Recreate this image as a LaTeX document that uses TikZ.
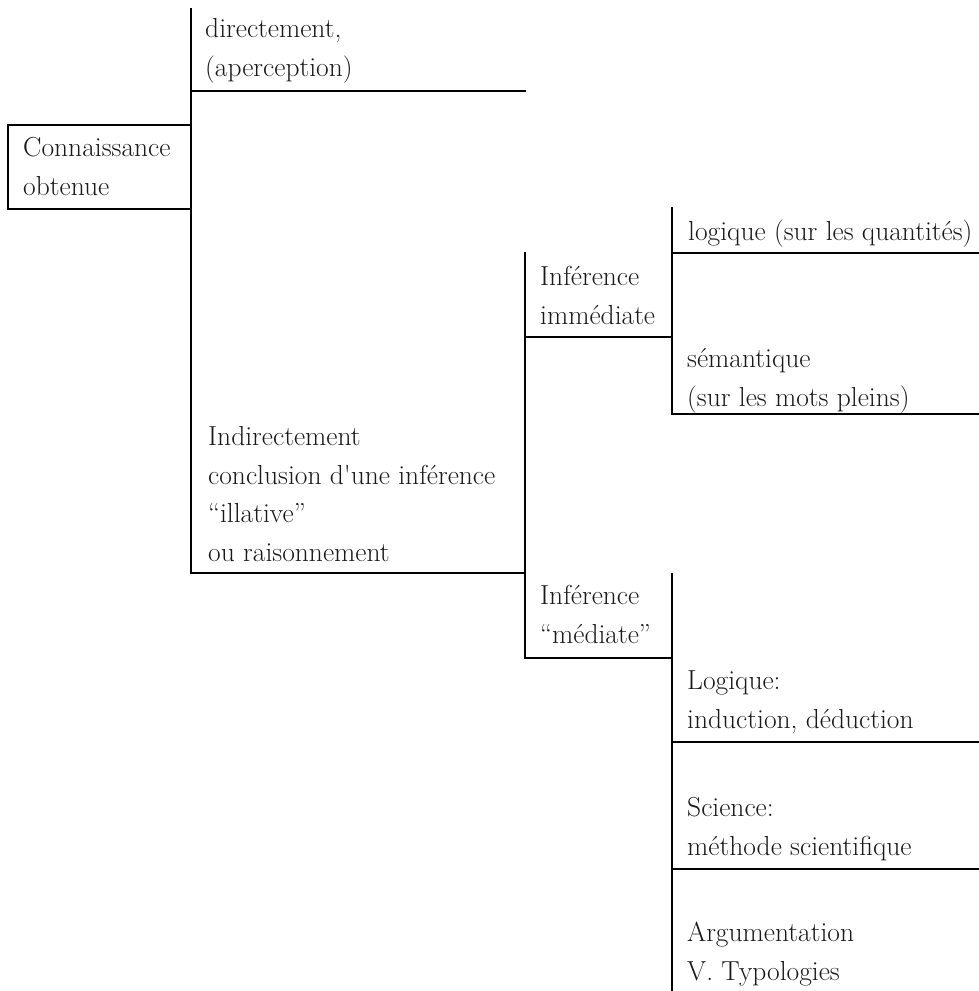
\documentclass[tikz,border=0pt]{standalone}
\usepackage{fontspec}
\begin{document}
\begin{tikzpicture}[x=1pt,y=-1pt,
  rule/.style={line width=2.5pt,black,line cap=rect},
  lbl/.style={anchor=base west,inner sep=0pt,align=left,text=black!90,
    font=\fontsize{27.5}{38.4}\selectfont}]
\useasboundingbox (0,0) rectangle (979,991);

% spines and junction points
\coordinate (a0) at (191,9);
\coordinate (a1) at (191,91);
\coordinate (a2) at (191,573);
\coordinate (a1e) at (525,91);
\coordinate (a2e) at (525,573);
\coordinate (bx1) at (8,125);
\coordinate (bx2) at (8,209);
\coordinate (bx1r) at (191,125);
\coordinate (bx2r) at (191,209);

\coordinate (b0) at (525,253);
\coordinate (b1) at (525,337);
\coordinate (b2) at (525,658);
\coordinate (b1e) at (672,337);
\coordinate (b2e) at (672,658);

\coordinate (c0) at (672,208);
\coordinate (c1) at (672,253);
\coordinate (c2) at (672,414);
\coordinate (c1e) at (979,253);
\coordinate (c2e) at (979,414);

\coordinate (d0) at (672,574);
\coordinate (d1) at (672,742);
\coordinate (d2) at (672,869);
\coordinate (d3) at (672,991);
\coordinate (d1e) at (979,742);
\coordinate (d2e) at (979,869);

% texts (each placed by the baseline of its last line)
\node[lbl] (root) at (23,195) {Connaissance\\obtenue};
\node[lbl] (dir) at (205,76) {directement,\\(aperception)};
\node[lbl] (ind) at (208,561) {Indirectement\\conclusion d\textquotesingle une inférence\\“illative”\\ou raisonnement};
\node[lbl] (imm) at (540,324) {Inférence\\immédiate};
\node[lbl] (med) at (540,643) {Inférence\\“médiate”};
\node[lbl] (log) at (688,240) {logique (sur les quantités)};
\node[lbl] (sem) at (687,406) {sémantique\\(sur les mots pleins)};
\node[lbl] (lgq) at (687,728) {Logique:\\induction, déduction};
\node[lbl] (sci) at (687,855) {Science:\\méthode scientifique};
\node[lbl] (arg) at (687,980) {Argumentation\\V. Typologies};

% first level
\draw[rule] (bx1r) -- (bx1) -- (bx2) -- (bx2r);
\draw[rule] (a0) -- (a2);
\draw[rule] (a1) -- (a1e);
\draw[rule] (a2) -- (a2e);

% second level
\draw[rule] (b0) -- (b2);
\draw[rule] (b1) -- (b1e);
\draw[rule] (b2) -- (b2e);

% third level
\draw[rule] (c0) -- (c2);
\draw[rule] (c1) -- (c1e);
\draw[rule] (c2) -- (c2e);
\draw[rule] (d0) -- (d3);
\draw[rule] (d1) -- (d1e);
\draw[rule] (d2) -- (d2e);
\end{tikzpicture}
\end{document}
